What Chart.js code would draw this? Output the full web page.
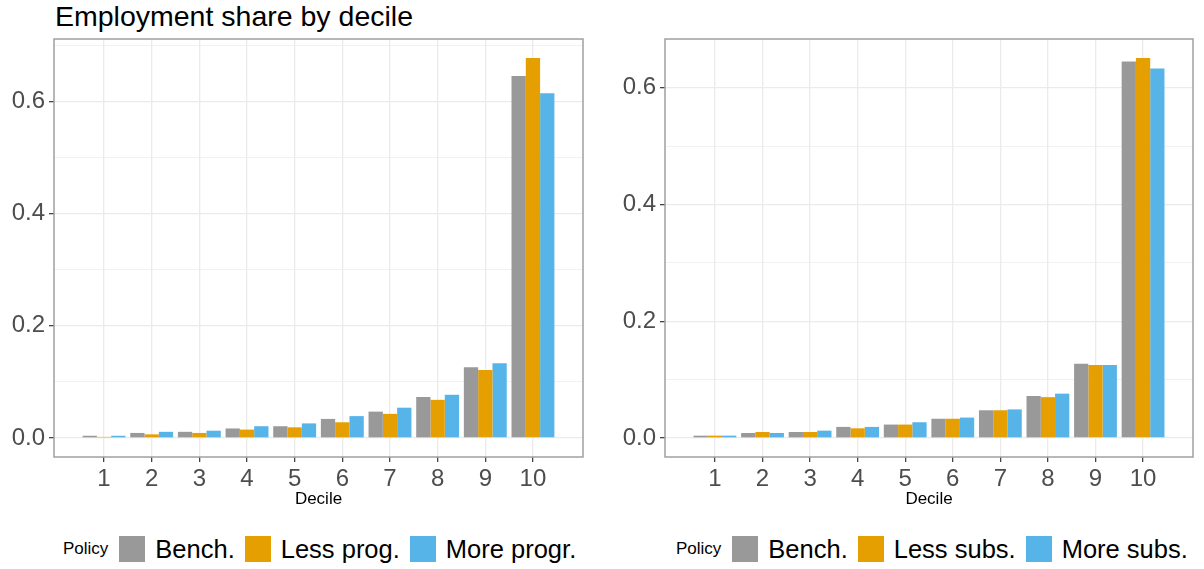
<!DOCTYPE html>
<html lang="en">
<head>
  <meta charset="UTF-8" />
  <title>Employment share by decile</title>
  <script src="https://cdn.jsdelivr.net/npm/chart.js"></script>
  <style>
    body {
      margin: 0;
      background: white;
      font-family: 'Liberation Sans', Arial, sans-serif;
    }
    .wrap {
      position: relative;
      width: 1204px;
      height: 569px;
    }
    canvas {
      position: absolute;
      top: 0;
    }
    #leftChart { left: 0; }
    #rightChart { left: 600px; }
    .title {
      position: absolute;
      left: 55px;
      top: 0;
      font-size: 28.5px;
      line-height: 32px;
      color: #000;
    }
    .legend {
      position: absolute;
      top: 536px;
      height: 26px;
      display: flex;
      align-items: center;
      color: #000;
      white-space: nowrap;
    }
    .legend .ttl {
      font-size: 17px;
      margin-right: 11px;
    }
    .legend .box {
      width: 26px;
      height: 26px;
      margin-right: 10px;
    }
    .legend .lbl {
      font-size: 25.5px;
      margin-right: 10px;
    }
  </style>
</head>
<body>
  <div class="wrap">
    <div class="title">Employment share by decile</div>
    <canvas id="leftChart" width="600" height="510"></canvas>
    <canvas id="rightChart" width="604" height="510"></canvas>
    <div class="legend" id="leftLegend" style="left:63px"></div>
    <div class="legend" id="rightLegend" style="left:676px"></div>
  </div>

  <script>
    const deciles = [1, 2, 3, 4, 5, 6, 7, 8, 9, 10];

    // left panel: progressivity
    const benchLeft = [0.004, 0.009, 0.011, 0.017, 0.021, 0.034, 0.047, 0.073, 0.126, 0.645];
    const lessProg  = [0.002, 0.0065, 0.009, 0.015, 0.019, 0.028, 0.043, 0.068, 0.121, 0.677];
    const moreProg  = [0.004, 0.011, 0.013, 0.021, 0.026, 0.039, 0.054, 0.077, 0.133, 0.614];

    // right panel: subsidies
    const benchRight = [0.004, 0.0086, 0.0103, 0.019, 0.023, 0.033, 0.0475, 0.072, 0.127, 0.645];
    const lessSubs   = [0.004, 0.0103, 0.0103, 0.0166, 0.023, 0.033, 0.0475, 0.070, 0.125, 0.651];
    const moreSubs   = [0.004, 0.0086, 0.0126, 0.019, 0.027, 0.035, 0.049, 0.076, 0.125, 0.633];

    const leftLabels = ['Bench.', 'Less prog.', 'More progr.'];
    const rightLabels = ['Bench.', 'Less subs.', 'More subs.'];
    const policyColors = ['#999999', '#E69F00', '#56B4E9'];
    const yTicks = [0, 0.1, 0.2, 0.3, 0.4, 0.5, 0.6, 0.7];

    const isMajor = v => Math.round(v * 10) % 2 === 0;

    // ggplot-like panel border drawn on top of the bars
    const panelBorder = {
      id: 'panelBorder',
      afterDatasetsDraw(chart) {
        const { ctx, chartArea: a } = chart;
        ctx.save();
        ctx.strokeStyle = '#a0a0a0';
        ctx.lineWidth = 1.5;
        ctx.strokeRect(a.left, a.top, a.right - a.left, a.bottom - a.top);
        ctx.restore();
      }
    };

    function makePanel(id, series, labels, yWidth, padRight) {
      const dataMax = Math.max(...series.flat());
      const datasets = series.map((vals, i) => ({
        label: labels[i],
        data: deciles.map((d, j) => ({ x: d, y: vals[j] })),
        backgroundColor: policyColors[i],
        borderWidth: 0,
        categoryPercentage: 0.9,
        barPercentage: 1.0
      }));

      return new Chart(document.getElementById(id), {
        type: 'bar',
        data: { datasets: datasets },
        plugins: [panelBorder],
        options: {
          responsive: false,
          animation: false,
          layout: { padding: { top: 39, right: padRight, bottom: 0, left: 0 } },
          plugins: {
            legend: { display: false },
            tooltip: { enabled: false }
          },
          scales: {
            x: {
              type: 'linear',
              offset: false,
              min: deciles[0] - 1.05,
              max: deciles[deciles.length - 1] + 1.05,
              afterBuildTicks: s => { s.ticks = deciles.map(v => ({ value: v })); },
              afterFit: s => { s.height = 53; },
              border: { display: false },
              grid: {
                offset: false,
                color: '#ebebeb',
                lineWidth: 1.3,
                tickColor: '#444',
                tickLength: 5
              },
              ticks: {
                color: '#4d4d4d',
                padding: 3,
                font: { family: 'Liberation Sans', size: 24 },
                callback: v => String(v)
              },
              title: {
                display: true,
                text: 'Decile',
                color: '#000',
                font: { family: 'Liberation Sans', size: 17 },
                padding: { top: 0, bottom: 0 }
              }
            },
            y: {
              min: -dataMax * 0.05,
              max: dataMax * 1.05,
              afterBuildTicks: s => {
                s.ticks = yTicks.filter(v => v <= s.max).map(v => ({ value: v }));
              },
              afterFit: s => { s.width = yWidth; },
              border: { display: false },
              grid: {
                color: '#ebebeb',
                lineWidth: c => (c.tick && isMajor(c.tick.value)) ? 1.3 : 0.7,
                tickColor: c => (c.tick && isMajor(c.tick.value)) ? '#444' : 'rgba(0,0,0,0)',
                tickLength: 5
              },
              ticks: {
                color: '#4d4d4d',
                padding: 4,
                font: { family: 'Liberation Sans', size: 24 },
                callback: v => isMajor(v) ? v.toFixed(1) : ''
              }
            }
          }
        }
      });
    }

    makePanel('leftChart', [benchLeft, lessProg, moreProg], leftLabels, 54, 17);
    makePanel('rightChart', [benchRight, lessSubs, moreSubs], rightLabels, 65, 11);

    // legends with inline "Policy" title
    function buildLegend(id, labels) {
      const el = document.getElementById(id);
      let html = '<span class="ttl">Policy</span>';
      labels.forEach((l, i) => {
        html += `<span class="box" style="background:${policyColors[i]}"></span><span class="lbl">${l}</span>`;
      });
      el.innerHTML = html;
    }
    buildLegend('leftLegend', leftLabels);
    buildLegend('rightLegend', rightLabels);
  </script>
</body>
</html>
